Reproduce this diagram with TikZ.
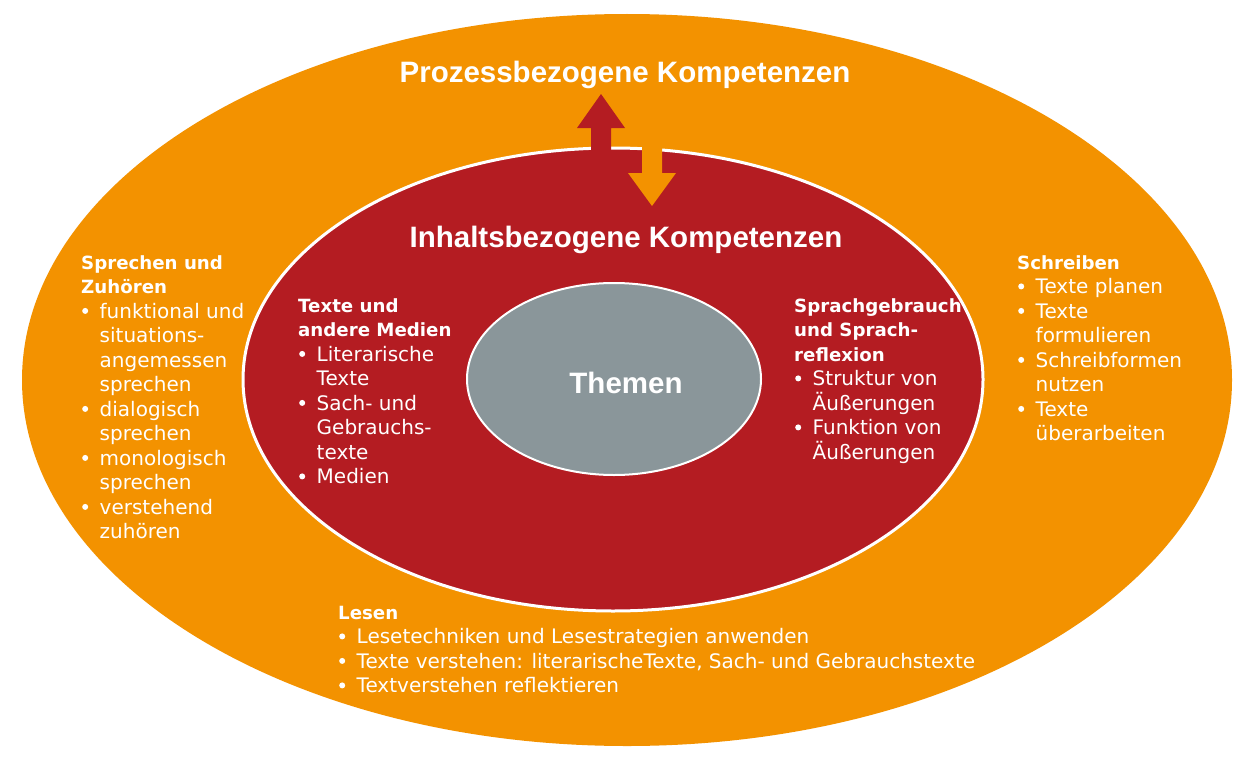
\documentclass[tikz,border=0pt]{standalone}
\usepackage{fontspec}
\setmainfont{DejaVu Sans}
\newfontfamily\titlefont{Liberation Sans}

\definecolor{prozorange}{HTML}{F39200}
\definecolor{inhaltred}{HTML}{B41C22}
\definecolor{themengray}{HTML}{8A969A}

\tikzset{
  kompetenz/.style={font=\titlefont\bfseries\fontsize{29.5}{30}\selectfont, text=white, inner sep=0pt, anchor=base},
  block/.style={font=\fontsize{20}{24.5}\selectfont, text=white, inner sep=0pt, anchor=north west, align=left},
}
\newcommand\hd[1]{{\fontsize{18.2}{24.5}\selectfont\bfseries #1}}
\newcommand\bul{\makebox[18.5pt][l]{\hspace*{1pt}\tikz[baseline=-7.3pt]\fill[white] (3pt,0pt) circle (3pt);\hss}}
\newcommand\ind{\hspace*{18.5pt}}
\newcommand\firstline{\rule{0pt}{16pt}}

\begin{document}
\begin{tikzpicture}[x=1pt,y=-1pt]
        \useasboundingbox (0,0) rectangle (1255,760);
        \fill[white] (0,0) rectangle (1255,760);
        % ellipses
        \fill[prozorange] (627,380) ellipse [x radius=605, y radius=366];
        \filldraw[fill=inhaltred, draw=white, line width=3pt] (613,379.5) ellipse [x radius=370, y radius=231.5];
        % arrows between the two rings
        \fill[inhaltred] (591,168) -- (591,128) -- (577,128) -- (601,94) -- (625,128) -- (611,128) -- (611,168) -- cycle;
        \fill[prozorange] (642,138) -- (642,173) -- (628,173) -- (652,206) -- (676,173) -- (662,173) -- (662,138) -- cycle;
        \filldraw[fill=themengray, draw=white, line width=2pt] (614,379) ellipse [x radius=147, y radius=96];
        % titles
        \node[kompetenz] (prozess) at (625,82) {Prozessbezogene Kompetenzen};
        \node[kompetenz] (inhalt) at (626,247) {Inhaltsbezogene Kompetenzen};
        \node[kompetenz] (themen) at (626,393) {Themen};
        % competence areas
        \node[block] (sprechen) at (81,253) {\firstline\hd{Sprechen und}\\ \hd{Zuhören}\\
          \bul funktional und\\ \ind situations-\\ \ind angemessen\\ \ind sprechen\\
          \bul dialogisch\\ \ind sprechen\\ \bul monologisch\\ \ind sprechen\\
          \bul verstehend\\ \ind zuhören};
        \node[block] (schreiben) at (1017,253) {\firstline\hd{Schreiben}\\
          \bul Texte planen\\ \bul Texte\\ \ind formulieren\\
          \bul Schreibformen\\ \ind nutzen\\ \bul Texte\\ \ind überarbeiten};
        \node[block] (medien) at (298,296) {\firstline\hd{Texte und}\\ \hd{andere Medien}\\
          \bul Literarische\\ \ind Texte\\ \bul Sach- und\\ \ind Gebrauchs-\\ \ind texte\\
          \bul Medien};
        \node[block] (sprache) at (794,296) {\firstline\hd{Sprachgebrauch}\\ \hd{und Sprach-}\\ \hd{reflexion}\\
          \bul Struktur von\\ \ind Äußerungen\\ \bul Funktion von\\ \ind Äußerungen};
        \node[block] (lesen) at (338,603) {\firstline\hd{Lesen}\\
          \bul Lesetechniken und Lesestrategien anwenden\\
          \bul Texte verstehen: literarischeTexte, Sach- und Gebrauchstexte\\
          \bul Textverstehen reflektieren};
      \end{tikzpicture}
\end{document}
